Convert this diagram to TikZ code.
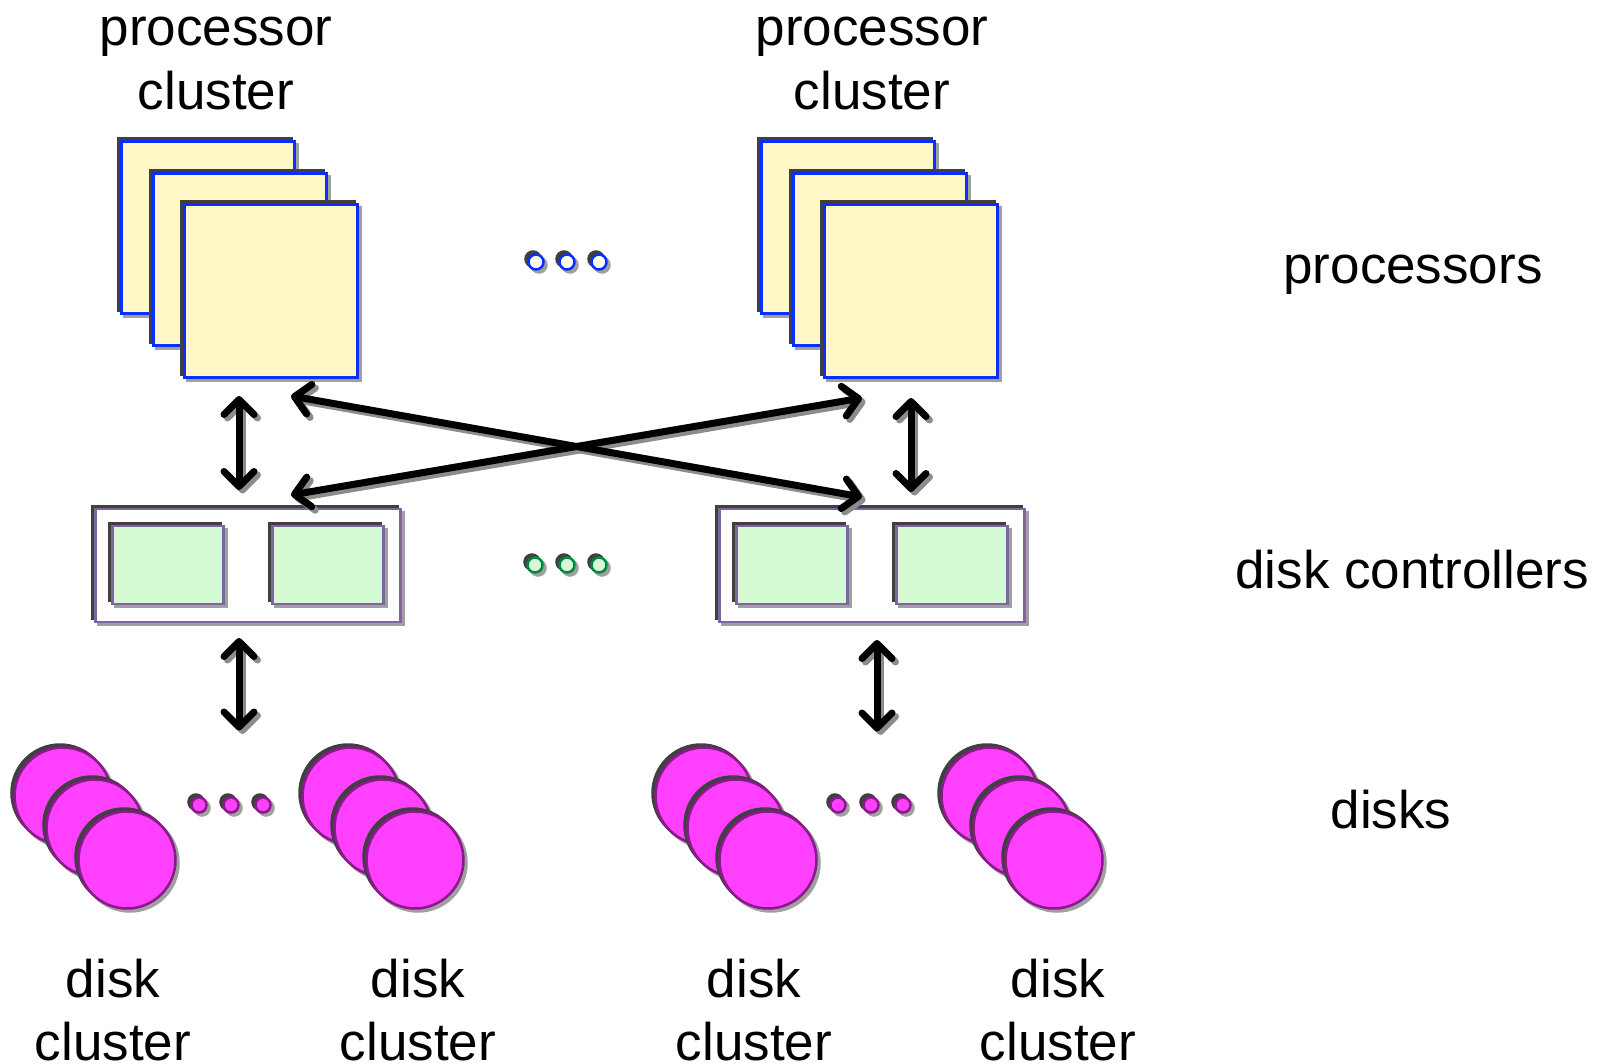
\documentclass[tikz,border=0pt]{standalone}
\usepackage{fontspec}
\setmainfont{Liberation Sans}
\usetikzlibrary{arrows.meta,calc}

\definecolor{procfill}{HTML}{FFF8C6}
\definecolor{procline}{HTML}{0A2EFF}
\definecolor{ctrlline}{HTML}{7E64A0}
\definecolor{ctrlfill}{HTML}{D4FAD4}
\definecolor{dotgreen}{HTML}{008844}
\definecolor{diskfill}{HTML}{FF40FF}
\definecolor{diskline}{HTML}{8A1A8A}
\definecolor{dotivory}{HTML}{FFFEF0}
\definecolor{edgedark}{HTML}{404040}
\definecolor{shadegray}{HTML}{A0A0A0}
\definecolor{linkgray}{HTML}{8C8C8C}

\tikzset{
  raised/.style={
    preaction={fill=shadegray, draw=shadegray, line width=#1,
               transform canvas={shift={(3pt,-3pt)}}},
    preaction={fill=edgedark, draw=edgedark, line width=#1,
               transform canvas={shift={(-3pt,3pt)}}}},
  procbox/.style={rectangle, draw=procline, fill=procfill, line width=3pt,
    minimum width=173pt, minimum height=172pt, inner sep=0pt, raised=3pt},
  ctrlbox/.style={rectangle, draw=ctrlline, fill=white, line width=2.5pt,
    minimum width=305pt, minimum height=113pt, inner sep=0pt, raised=2.5pt},
  ctrlunit/.style={rectangle, draw=ctrlline, fill=ctrlfill, line width=2.5pt,
    minimum width=111pt, minimum height=78pt, inner sep=0pt, raised=2.5pt},
  diskunit/.style={circle, draw=diskline, fill=diskfill, line width=2.5pt,
    minimum size=97pt, inner sep=0pt, raised=2.5pt},
  bluedot/.style={circle, draw=procline, fill=dotivory, line width=2.5pt,
    minimum size=15pt, inner sep=0pt, raised=2.5pt},
  greendot/.style={circle, draw=dotgreen, fill=ctrlfill, line width=2.5pt,
    minimum size=15pt, inner sep=0pt, raised=2.5pt},
  pinkdot/.style={circle, draw=diskline, fill=diskfill, line width=2.5pt,
    minimum size=15pt, inner sep=0pt, raised=2.5pt},
  barb/.tip={Straight Barb[length=15pt,width=30pt,round]},
  linkshade/.style={draw=linkgray, line width=7pt, barb-barb},
  link/.style={draw=black, line width=7pt, barb-barb},
  lbl/.style={anchor=base, inner sep=0pt,
    font=\fontsize{53}{63}\selectfont}
}

\begin{document}
\begin{tikzpicture}[x=1pt,y=-1pt]
\useasboundingbox (0,0) rectangle (1600,1064);

% processor clusters (three stacked boards each)
\foreach \dx/\k in {0/1,640/2}{
  \node[procbox] (p\k a) at (208+\dx,228) {};
  \node[procbox] (p\k b) at (239.5+\dx,259.5) {};
  \node[procbox] (p\k c) at (271+\dx,291) {};
}
\node[bluedot] (bd1) at (536,262) {};
\node[bluedot] (bd2) at (567,262) {};
\node[bluedot] (bd3) at (599,262) {};

% disk controllers
\node[ctrlbox] (c1) at (248,565.5) {};
\node[ctrlunit] (c1a) at (168,565) {};
\node[ctrlunit] (c1b) at (328,565) {};
\node[ctrlbox] (c2) at (872,565.5) {};
\node[ctrlunit] (c2a) at (792,565) {};
\node[ctrlunit] (c2b) at (952,565) {};
\node[greendot] (gd1) at (535,565) {};
\node[greendot] (gd2) at (567,565) {};
\node[greendot] (gd3) at (599,565) {};

% disk clusters
\foreach \dx/\k in {0/1,288/2,641/3,927/4}{
  \node[diskunit] (d\k a) at (63+\dx,796) {};
  \node[diskunit] (d\k b) at (95+\dx,828) {};
  \node[diskunit] (d\k c) at (127+\dx,860) {};
}
\node[pinkdot] (m1a) at (199,805) {};
\node[pinkdot] (m1b) at (231,805) {};
\node[pinkdot] (m1c) at (263,805) {};
\node[pinkdot] (m2a) at (838,805) {};
\node[pinkdot] (m2b) at (871,805) {};
\node[pinkdot] (m2c) at (903,805) {};

% link end points
\coordinate (l1s) at ($(p1c.south)+(-32,17.5)$);
\coordinate (l1e) at ($(c1.north)+(-9,-17.75)$);
\coordinate (l2s) at ($(p2c.south)+(0,19.5)$);
\coordinate (l2e) at ($(c2.north)+(39,-15.75)$);
\coordinate (l3s) at ($(p1c.south)+(20,17.5)$);
\coordinate (l3e) at ($(c2.north)+(-10,-10.75)$);
\coordinate (l4s) at ($(p2c.south)+(-49,19.5)$);
\coordinate (l4e) at ($(c1.north)+(43,-12.75)$);
\coordinate (l5s) at ($(c1.south)+(-9,14.75)$);
\coordinate (l5e) at ($(m1b.north)+(8,-65.75)$);
\coordinate (l6s) at ($(c2.south)+(5,16.75)$);
\coordinate (l6e) at ($(m2b.north)+(6,-64.75)$);

% interconnect: grey offset shade first, then the black link
\foreach \s/\e in {l1s/l1e,l2s/l2e,l3s/l3e,l4s/l4e,l5s/l5e,l6s/l6e}{
  \draw[linkshade] ([shift={(3.5,3.5)}]\s) -- ([shift={(3.5,3.5)}]\e);
}
\foreach \s/\e in {l1s/l1e,l2s/l2e,l3s/l3e,l4s/l4e,l5s/l5e,l6s/l6e}{
  \draw[link] (\s) -- (\e);
}

% labels
\node[lbl] (tp1) at (216,46) {processor};
\node[lbl] (tp1b) at (216,110) {cluster};
\node[lbl] (tp2) at (872,46) {processor};
\node[lbl] (tp2b) at (872,110) {cluster};
\node[lbl] (tproc) at (1413,284) {processors};
\node[lbl] (tctrl) at (1412,588) {disk controllers};
\node[lbl] (tdisk) at (1391,828) {disks};
\foreach \x/\k in {113/1,418/2,754/3,1058/4}{
  \node[lbl] (td\k) at (\x,997) {disk};
  \node[lbl] (td\k b) at (\x,1060) {cluster};
}
\end{tikzpicture}
\end{document}
